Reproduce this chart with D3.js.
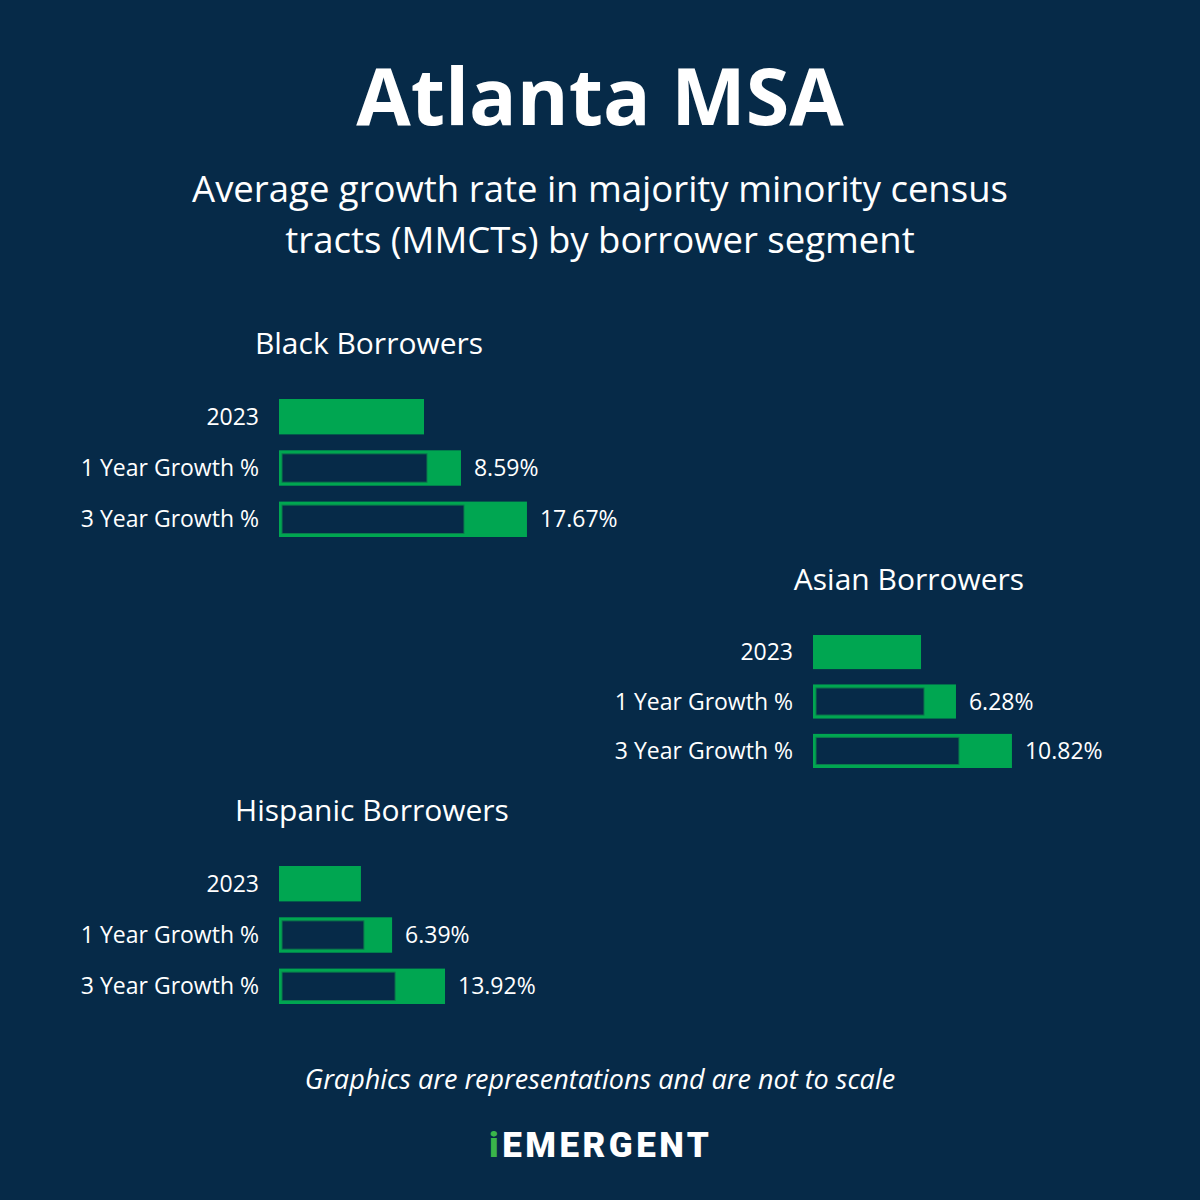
<!DOCTYPE html>
<html>
<head>
<meta charset="utf-8">
<script src="https://cdn.jsdelivr.net/npm/d3@7"></script>
<style>
  html, body { margin: 0; padding: 0; background: #062a48; }
  svg { display: block; }
</style>
</head>
<body>
<div id="chart"></div>
<script>
// borrower segments and row names
const segments = ["Black Borrowers", "Asian Borrowers", "Hispanic Borrowers"];
const rowLabels = ["2023", "1 Year Growth %", "3 Year Growth %"];

// growth rates shown next to the bars
const oneYearGrowth = [8.59, 6.28, 6.39];
const threeYearGrowth = [17.67, 10.82, 13.92];

// relative bar lengths (graphics are representations, not to scale; Black 2023 = 100)
const baseLength = [100, 74.5, 56.5];
const oneYearLength = [125.5, 98.6, 78];
const threeYearLength = [171, 137.2, 114.5];

const width = 1200, height = 1200;
const bg = "#062a48";
const green = "#00a651";
const font = "'Open Sans', sans-serif";

// where each panel sits on the page
const panels = [
    {x0: 279, top: 399, bottom: 537, titleX: 369},
    {x0: 813, top: 635, bottom: 768, titleX: 909},
    {x0: 279, top: 866, bottom: 1004, titleX: 372}
];

const svg = d3.select("#chart")
    .append("svg")
    .attr("width", width)
    .attr("height", height);

svg.append("rect")
    .attr("width", width)
    .attr("height", height)
    .attr("fill", bg);

// Title and subtitle
svg.append("text")
    .attr("x", width / 2)
    .attr("y", 125)
    .attr("text-anchor", "middle")
    .style("font-family", font)
    .style("font-weight", 700)
    .style("font-size", "79px")
    .attr("fill", "white")
    .text("Atlanta MSA");

const subtitle = ["Average growth rate in majority minority census", "tracts (MMCTs) by borrower segment"];
svg.selectAll(".subtitle")
    .data(subtitle)
    .enter()
    .append("text")
    .attr("class", "subtitle")
    .attr("x", width / 2)
    .attr("y", (d, i) => 202 + i * 51)
    .attr("text-anchor", "middle")
    .style("font-family", font)
    .style("font-size", "36.5px")
    .attr("fill", "white")
    .text(d => d);

// one x scale shared by all panels
const xScale = d3.scaleLinear()
    .domain([0, 100])
    .range([0, 145]);

segments.forEach(function (seg, i) {
    const p = panels[i];
    const yScale = d3.scaleBand()
        .domain(rowLabels)
        .range([p.top, p.bottom])
        .paddingInner(0.31)
        .paddingOuter(0);
    const h = yScale.bandwidth();

    const g = svg.append("g");

    g.append("text")
        .attr("x", p.titleX)
        .attr("y", p.top - 45)
        .attr("text-anchor", "middle")
        .style("font-family", font)
        .style("font-size", "30px")
        .attr("fill", "white")
        .text(seg);

    const rows = [
        {label: rowLabels[0], len: baseLength[i], inner: null, value: null},
        {label: rowLabels[1], len: oneYearLength[i], inner: baseLength[i], value: oneYearGrowth[i]},
        {label: rowLabels[2], len: threeYearLength[i], inner: oneYearLength[i], value: threeYearGrowth[i]}
    ];

    // row labels
    g.selectAll(".rowlabel")
        .data(rows)
        .enter()
        .append("text")
        .attr("class", "rowlabel")
        .attr("x", p.x0 - 20)
        .attr("y", d => yScale(d.label) + h / 2)
        .attr("dy", "0.35em")
        .attr("text-anchor", "end")
        .style("font-family", font)
        .style("font-size", "23px")
        .attr("fill", "white")
        .text(d => d.label);

    // green bars
    g.selectAll(".bar")
        .data(rows)
        .enter()
        .append("rect")
        .attr("class", "bar")
        .attr("x", p.x0)
        .attr("y", d => yScale(d.label))
        .attr("width", d => xScale(d.len))
        .attr("height", h)
        .attr("fill", green);

    // dark inset showing the previous size
    g.selectAll(".inner")
        .data(rows.filter(d => d.inner !== null))
        .enter()
        .append("rect")
        .attr("class", "inner")
        .attr("x", p.x0 + 3)
        .attr("y", d => yScale(d.label) + 3.5)
        .attr("width", d => xScale(d.inner))
        .attr("height", h - 7)
        .attr("fill", bg)
        .attr("stroke", "#0b7a4c")
        .attr("stroke-width", 1);

    // growth values
    g.selectAll(".value")
        .data(rows.filter(d => d.value !== null))
        .enter()
        .append("text")
        .attr("class", "value")
        .attr("x", d => p.x0 + xScale(d.len) + 13)
        .attr("y", d => yScale(d.label) + h / 2)
        .attr("dy", "0.35em")
        .style("font-family", font)
        .style("font-size", "23px")
        .attr("fill", "white")
        .text(d => d3.format(".2f")(d.value) + "%");
});

// footnote
svg.append("text")
    .attr("x", width / 2)
    .attr("y", 1089)
    .attr("text-anchor", "middle")
    .style("font-family", font)
    .style("font-style", "italic")
    .style("font-size", "27px")
    .attr("fill", "white")
    .text("Graphics are representations and are not to scale");

// logo
const logo = svg.append("text")
    .attr("x", 489)
    .attr("y", 1157)
    .style("font-family", "Roboto, sans-serif")
    .style("font-weight", 900)
    .style("font-size", "35px")
    .style("letter-spacing", "3.5px");
logo.append("tspan").attr("fill", "#3ab54a").text("i");
logo.append("tspan").attr("fill", "white").text("EMERGENT");
</script>
</body>
</html>
